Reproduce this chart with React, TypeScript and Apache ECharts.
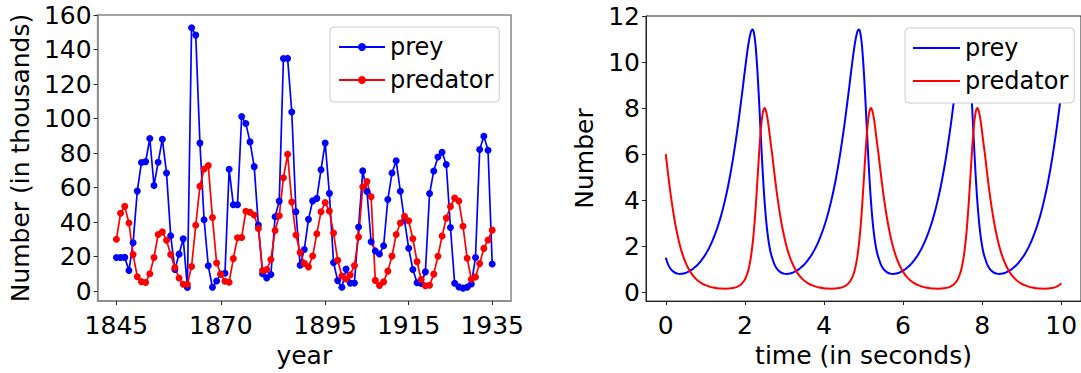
import React, { useEffect, useRef } from "react";
import * as echarts from "echarts";

const FONT = "DejaVu Sans";

// ---------- Left chart: Hudson Bay data ----------
const years = [
  1845, 1846, 1847, 1848, 1849, 1850, 1851, 1852, 1853, 1854, 1855, 1856, 1857, 1858, 1859,
  1860, 1861, 1862, 1863, 1864, 1865, 1866, 1867, 1868, 1869, 1870, 1871, 1872, 1873, 1874,
  1875, 1876, 1877, 1878, 1879, 1880, 1881, 1882, 1883, 1884, 1885, 1886, 1887, 1888, 1889,
  1890, 1891, 1892, 1893, 1894, 1895, 1896, 1897, 1898, 1899, 1900, 1901, 1902, 1903, 1904,
  1905, 1906, 1907, 1908, 1909, 1910, 1911, 1912, 1913, 1914, 1915, 1916, 1917, 1918, 1919,
  1920, 1921, 1922, 1923, 1924, 1925, 1926, 1927, 1928, 1929, 1930, 1931, 1932, 1933, 1934,
  1935,
];
const hare = [
  19.58, 19.6, 19.61, 11.99, 28.04, 58.0, 74.6, 75.09, 88.48, 61.28, 74.67, 88.06, 68.51, 32.19, 12.64,
  21.49, 30.35, 2.18, 152.65, 148.36, 85.81, 41.41, 14.75, 2.28, 5.91, 9.95, 10.44, 70.64, 50.12, 50.13,
  101.25, 97.12, 86.51, 72.17, 38.32, 10.11, 7.74, 9.67, 43.12, 52.21, 134.85, 134.86, 103.79, 46.1, 15.03,
  24.2, 41.65, 52.34, 53.78, 70.4, 85.81, 56.69, 16.59, 6.16, 2.3, 12.82, 4.72, 4.73, 37.22, 69.72,
  57.78, 28.68, 23.37, 21.54, 26.34, 53.1, 68.48, 75.58, 57.92, 40.97, 24.95, 12.59, 4.97, 4.5, 11.21,
  56.6, 69.63, 77.74, 80.53, 73.38, 36.93, 4.64, 2.54, 1.8, 2.39, 4.23, 19.52, 82.11, 89.76, 81.66,
  15.76,
];
const lynx = [
  30.09, 45.15, 49.15, 39.52, 21.23, 8.42, 5.56, 5.08, 10.17, 19.6, 32.91, 34.38, 29.59, 21.3, 13.69,
  7.65, 4.08, 4.09, 14.33, 38.22, 60.78, 70.77, 72.77, 42.68, 16.39, 9.83, 5.8, 5.26, 18.91, 30.95,
  31.18, 46.34, 45.77, 44.15, 36.33, 12.03, 12.6, 18.34, 35.14, 43.77, 65.69, 79.35, 51.65, 32.59, 22.45,
  16.16, 14.12, 20.38, 33.33, 46.0, 51.41, 46.43, 33.68, 18.01, 8.86, 7.13, 9.47, 14.86, 31.47, 60.57,
  63.51, 54.7, 6.3, 3.41, 5.44, 11.65, 20.35, 32.88, 39.55, 43.36, 40.83, 30.36, 17.18, 6.82, 3.19,
  3.52, 9.94, 20.3, 31.99, 42.36, 49.08, 53.99, 52.25, 37.7, 19.14, 6.98, 8.31, 16.01, 24.82, 29.7,
  35.4,
];
const yearTicks = [1845, 1870, 1895, 1915, 1935];
const countTicks = [0, 20, 40, 60, 80, 100, 120, 140, 160];

// ---------- Right chart: simulated populations ----------
const timeSec = [
  0, 0.05, 0.1, 0.15, 0.2, 0.25, 0.3, 0.35, 0.4, 0.45, 0.5, 0.55, 0.6, 0.65, 0.7, 0.75, 0.8, 0.85, 0.9, 0.95,
  1.0, 1.1, 1.2, 1.3, 1.4, 1.5, 1.6, 1.7, 1.8, 1.85, 1.9, 1.95, 2.0, 2.05, 2.1, 2.15, 2.175, 2.2, 2.225, 2.25,
  2.275, 2.3, 2.325, 2.35, 2.375, 2.4, 2.425, 2.45, 2.475, 2.5, 2.525, 2.55, 2.575, 2.6, 2.65,
  2.69, 2.74, 2.79, 2.84, 2.89, 2.94, 2.99, 3.04, 3.09, 3.14, 3.19, 3.24, 3.29, 3.34, 3.39, 3.44, 3.49, 3.54, 3.59, 3.64,
  3.69, 3.79, 3.89, 3.99, 4.09, 4.19, 4.29, 4.39, 4.49, 4.54, 4.59, 4.64, 4.69, 4.74, 4.79, 4.84, 4.865, 4.89, 4.915, 4.94,
  4.965, 4.99, 5.015, 5.04, 5.065, 5.09, 5.115, 5.14, 5.165, 5.19, 5.215, 5.24, 5.265, 5.29, 5.34,
  5.38, 5.43, 5.48, 5.53, 5.58, 5.63, 5.68, 5.73, 5.78, 5.83, 5.88, 5.93, 5.98, 6.03, 6.08, 6.13, 6.18, 6.23, 6.28, 6.33,
  6.38, 6.48, 6.58, 6.68, 6.78, 6.88, 6.98, 7.08, 7.18, 7.23, 7.28, 7.33, 7.38, 7.43, 7.48, 7.53, 7.555, 7.58, 7.605, 7.63,
  7.655, 7.68, 7.705, 7.73, 7.755, 7.78, 7.805, 7.83, 7.855, 7.88, 7.905, 7.93, 7.955, 7.98, 8.03,
  8.07, 8.12, 8.17, 8.22, 8.27, 8.32, 8.37, 8.42, 8.47, 8.52, 8.57, 8.62, 8.67, 8.72, 8.77, 8.82, 8.87, 8.92, 8.97, 9.02,
  9.07, 9.17, 9.27, 9.37, 9.47, 9.57, 9.67, 9.77, 9.87, 9.92, 9.97, 10.0,
];
const preyCount = [
  1.5, 1.25, 1.08, 0.965, 0.888, 0.84, 0.812, 0.801, 0.804, 0.818, 0.842, 0.876, 0.92, 0.973, 1.035, 1.107, 1.19, 1.283, 1.388, 1.505,
  1.636, 1.944, 2.321, 2.781, 3.34, 4.015, 4.827, 5.795, 6.934, 7.565, 8.233, 8.927, 9.628, 10.3, 10.886, 11.293, 11.39, 11.41, 11.3, 11.04,
  10.65, 10.07, 9.4, 8.62, 7.78, 6.91, 6.07, 5.27, 4.55, 3.92, 3.38, 2.92, 2.54, 2.22, 1.74,
  1.5, 1.25, 1.08, 0.965, 0.888, 0.84, 0.812, 0.801, 0.804, 0.818, 0.842, 0.876, 0.92, 0.973, 1.035, 1.107, 1.19, 1.283, 1.388, 1.505,
  1.636, 1.944, 2.321, 2.781, 3.34, 4.015, 4.827, 5.795, 6.934, 7.565, 8.233, 8.927, 9.628, 10.3, 10.886, 11.293, 11.39, 11.41, 11.3, 11.04,
  10.65, 10.07, 9.4, 8.62, 7.78, 6.91, 6.07, 5.27, 4.55, 3.92, 3.38, 2.92, 2.54, 2.22, 1.74,
  1.5, 1.25, 1.08, 0.965, 0.888, 0.84, 0.812, 0.801, 0.804, 0.818, 0.842, 0.876, 0.92, 0.973, 1.035, 1.107, 1.19, 1.283, 1.388, 1.505,
  1.636, 1.944, 2.321, 2.781, 3.34, 4.015, 4.827, 5.795, 6.934, 7.565, 8.233, 8.927, 9.628, 10.3, 10.886, 11.293, 11.39, 11.41, 11.3, 11.04,
  10.65, 10.07, 9.4, 8.62, 7.78, 6.91, 6.07, 5.27, 4.55, 3.92, 3.38, 2.92, 2.54, 2.22, 1.74,
  1.5, 1.25, 1.08, 0.965, 0.888, 0.84, 0.812, 0.801, 0.804, 0.818, 0.842, 0.876, 0.92, 0.973, 1.035, 1.107, 1.19, 1.283, 1.388, 1.505,
  1.636, 1.944, 2.321, 2.781, 3.34, 4.015, 4.827, 5.795, 6.934, 7.565, 8.233, 8.65,
];
const predatorCount = [
  6.0, 5.26, 4.56, 3.93, 3.37, 2.88, 2.46, 2.09, 1.78, 1.52, 1.3, 1.11, 0.95, 0.815, 0.7, 0.606, 0.525, 0.458, 0.4, 0.352,
  0.312, 0.25, 0.208, 0.179, 0.163, 0.158, 0.165, 0.188, 0.238, 0.28, 0.341, 0.429, 0.559, 0.754, 1.05, 1.5, 1.81, 2.18, 2.61, 3.14,
  3.73, 4.4, 5.08, 5.77, 6.42, 6.99, 7.44, 7.76, 7.95, 8.0, 7.93, 7.76, 7.52, 7.22, 6.52,
  6.0, 5.26, 4.56, 3.93, 3.37, 2.88, 2.46, 2.09, 1.78, 1.52, 1.3, 1.11, 0.95, 0.815, 0.7, 0.606, 0.525, 0.458, 0.4, 0.352,
  0.312, 0.25, 0.208, 0.179, 0.163, 0.158, 0.165, 0.188, 0.238, 0.28, 0.341, 0.429, 0.559, 0.754, 1.05, 1.5, 1.81, 2.18, 2.61, 3.14,
  3.73, 4.4, 5.08, 5.77, 6.42, 6.99, 7.44, 7.76, 7.95, 8.0, 7.93, 7.76, 7.52, 7.22, 6.52,
  6.0, 5.26, 4.56, 3.93, 3.37, 2.88, 2.46, 2.09, 1.78, 1.52, 1.3, 1.11, 0.95, 0.815, 0.7, 0.606, 0.525, 0.458, 0.4, 0.352,
  0.312, 0.25, 0.208, 0.179, 0.163, 0.158, 0.165, 0.188, 0.238, 0.28, 0.341, 0.429, 0.559, 0.754, 1.05, 1.5, 1.81, 2.18, 2.61, 3.14,
  3.73, 4.4, 5.08, 5.77, 6.42, 6.99, 7.44, 7.76, 7.95, 8.0, 7.93, 7.76, 7.52, 7.22, 6.52,
  6.0, 5.26, 4.56, 3.93, 3.37, 2.88, 2.46, 2.09, 1.78, 1.52, 1.3, 1.11, 0.95, 0.815, 0.7, 0.606, 0.525, 0.458, 0.4, 0.352,
  0.312, 0.25, 0.208, 0.179, 0.163, 0.158, 0.165, 0.188, 0.238, 0.28, 0.341, 0.394,
];
const timeTicks = [0, 2, 4, 6, 8, 10];
const numberTicks = [0, 2, 4, 6, 8, 10, 12];

const BLUE = "#0000ff";
const RED = "#ff0000";

function axisCommon(ticks: number[], margin: number, spine: string, spineWidth: number) {
  return {
    axisLine: { show: true, onZero: false, lineStyle: { color: spine, width: spineWidth } },
    splitLine: { show: false },
    axisTick: { show: true, inside: false, length: 4, customValues: ticks, lineStyle: { color: "#222", width: 1 } },
    axisLabel: {
      customValues: ticks,
      fontSize: 25,
      color: "#000",
      fontFamily: FONT,
      margin,
      formatter: (v: number) => String(v),
    },
  };
}

function legendBox(left: number, top: number, itemWidth: number, lineOnly: boolean) {
  return {
    orient: "vertical",
    left,
    top,
    z: 20,
    padding: [8, 6, 10, 8],
    itemWidth,
    itemHeight: lineOnly ? 2 : 10,
    ...(lineOnly ? { icon: "rect" } : {}),
    itemGap: 9,
    selectedMode: false,
    backgroundColor: "#ffffff",
    borderColor: "#cccccc",
    borderWidth: 1,
    borderRadius: 4,
    textStyle: { fontSize: 24, lineHeight: 24, color: "#000", fontFamily: FONT },
    data: ["prey", "predator"],
  };
}

const leftOption = {
  animation: false,
  textStyle: { fontFamily: FONT },
  grid: { left: 97, top: 15, width: 414, height: 291, show: true, borderColor: "#888", borderWidth: 1.5, backgroundColor: "transparent" },
  legend: legendBox(330, 27, 46, false),
  xAxis: {
    type: "value",
    min: 1840.5,
    max: 1939.5,
    name: "year",
    nameLocation: "middle",
    nameGap: 36,
    nameTextStyle: { fontSize: 25, color: "#000", fontFamily: FONT },
    ...axisCommon(yearTicks, 12, "#888", 1.5),
  },
  yAxis: {
    type: "value",
    min: -5.7,
    max: 160,
    name: "Number (in thousands)",
    nameLocation: "middle",
    nameGap: 63,
    nameTextStyle: { fontSize: 25, color: "#000", fontFamily: FONT },
    ...axisCommon(countTicks, 6, "#888", 1.5),
  },
  series: [
    {
      type: "line",
      name: "prey",
      data: years.map((y, i) => [y, hare[i]]),
      symbol: "circle",
      symbolSize: 7,
      color: BLUE,
      lineStyle: { width: 1.7, color: BLUE },
      itemStyle: { color: BLUE },
    },
    {
      type: "line",
      name: "predator",
      data: years.map((y, i) => [y, lynx[i]]),
      symbol: "circle",
      symbolSize: 7,
      color: RED,
      lineStyle: { width: 1.7, color: RED },
      itemStyle: { color: RED },
    },
  ],
};

const rightOption = {
  animation: false,
  textStyle: { fontFamily: FONT },
  grid: { left: 106, top: 16, width: 439, height: 291, show: true, borderColor: "#222", borderWidth: 1, backgroundColor: "transparent" },
  legend: legendBox(365, 28, 47, true),
  xAxis: {
    type: "value",
    min: -0.5,
    max: 10.5,
    name: "time (in seconds)",
    nameLocation: "middle",
    nameGap: 36,
    nameTextStyle: { fontSize: 25, color: "#000", fontFamily: FONT },
    ...axisCommon(timeTicks, 12, "#222", 1),
  },
  yAxis: {
    type: "value",
    min: -0.38,
    max: 12,
    name: "Number",
    nameLocation: "middle",
    nameGap: 48,
    nameTextStyle: { fontSize: 25, color: "#000", fontFamily: FONT },
    ...axisCommon(numberTicks, 6, "#222", 1),
  },
  series: [
    {
      type: "line",
      name: "prey",
      data: timeSec.map((t, i) => [t, preyCount[i]]),
      showSymbol: false,
      symbol: "none",
      smooth: 0.3,
      color: BLUE,
      lineStyle: { width: 2, color: BLUE },
    },
    {
      type: "line",
      name: "predator",
      data: timeSec.map((t, i) => [t, predatorCount[i]]),
      showSymbol: false,
      symbol: "none",
      smooth: 0.3,
      color: RED,
      lineStyle: { width: 2, color: RED },
    },
  ],
};

function Chart({ option, left, width }: { option: any; left: number; width: number }) {
  const ref = useRef<HTMLDivElement>(null);
  useEffect(() => {
    if (!ref.current) return;
    const chart = echarts.init(ref.current, undefined, { renderer: "svg" });
    chart.setOption(option);
    return () => chart.dispose();
  }, [option]);
  return (
    <div
      ref={ref}
      style={{ position: "absolute", left, top: 0, width, height: 373, overflow: "hidden", background: "#fff" }}
    />
  );
}

export default function App() {
  return (
    <div style={{ position: "absolute", left: 0, top: 0, width: 1081, height: 373, background: "#fff" }}>
      <Chart option={leftOption} left={0} width={540} />
      <Chart option={rightOption} left={540} width={541} />
    </div>
  );
}
